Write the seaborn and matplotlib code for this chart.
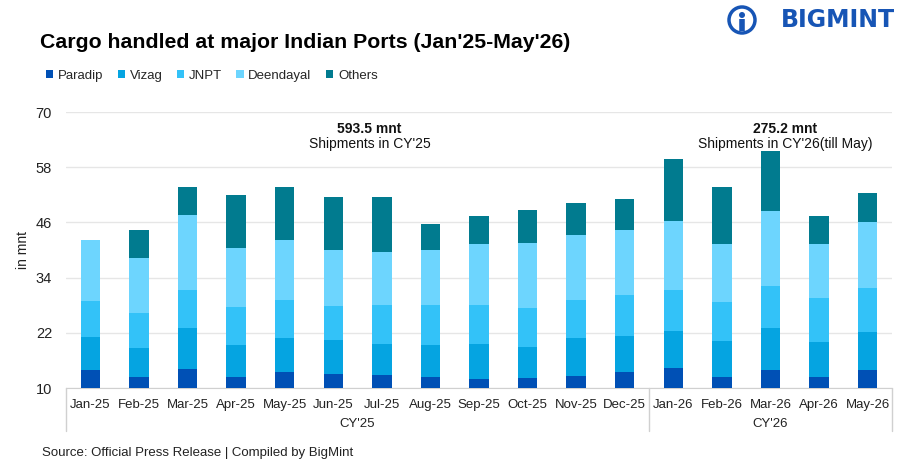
import numpy as np
import pandas as pd
import seaborn as sns
import matplotlib.pyplot as plt
from matplotlib.patches import Patch, Ellipse
from matplotlib.lines import Line2D

months = ["Jan-25", "Feb-25", "Mar-25", "Apr-25", "May-25", "Jun-25", "Jul-25", "Aug-25",
          "Sep-25", "Oct-25", "Nov-25", "Dec-25", "Jan-26", "Feb-26", "Mar-26", "Apr-26", "May-26"]
ports = ["Paradip", "Vizag", "JNPT", "Deendayal", "Others"]

paradip = [14.0, 12.5, 14.1, 12.5, 13.4, 13.0, 12.8, 12.3, 12.0, 12.2, 12.7, 13.4, 14.4, 12.5, 14.0, 12.5, 14.0]
vizag = [7.1, 6.2, 8.9, 6.8, 7.5, 7.4, 6.8, 7.1, 7.6, 6.8, 8.2, 8.0, 8.1, 7.8, 9.1, 7.4, 8.2]
jnpt = [7.9, 7.5, 8.2, 8.3, 8.2, 7.5, 8.5, 8.6, 8.5, 8.5, 8.3, 8.9, 8.9, 8.3, 9.1, 9.7, 9.5]
deendayal = [13.1, 12.1, 16.3, 12.9, 13.0, 12.0, 11.4, 11.9, 13.1, 14.1, 14.0, 14.0, 15.0, 12.8, 16.3, 11.8, 14.3]
others = [0.0, 6.0, 6.3, 11.4, 11.7, 11.7, 12.1, 5.8, 6.2, 7.2, 7.0, 6.8, 13.4, 12.2, 13.1, 5.9, 6.4]

colors = ["#0050B5", "#05A4E1", "#33C2F8", "#6DD5FE", "#017B8F"]

df = pd.DataFrame({"month": months, "Paradip": paradip, "Vizag": vizag, "JNPT": jnpt,
                   "Deendayal": deendayal, "Others": others})
cum = df[ports].cumsum(axis=1)
cum["month"] = months

sns.set_style("white")
plt.rcParams["font.family"] = ["Liberation Sans", "DejaVu Sans"]

W, H = 905, 473
fig = plt.figure(figsize=(W / 100, H / 100), dpi=100)
ax = fig.add_axes([66 / W, 85 / H, 826 / W, 276 / H])

# draw tallest layer first so lower layers cover it
for port, col in reversed(list(zip(ports, colors))):
    sns.barplot(data=cum, x="month", y=port, color=col, width=0.4, ax=ax,
                saturation=1, edgecolor="none", zorder=3)

ax.set_ylim(10, 70)
ax.set_yticks([10, 22, 34, 46, 58, 70])
ax.set_xlim(-0.5, len(months) - 0.5)
ax.grid(axis="y", color="#e6e6e6", linewidth=1, zorder=0)
for s in ["top", "right", "left"]:
    ax.spines[s].set_visible(False)
ax.spines["bottom"].set_color("#d0d0d0")
ax.tick_params(axis="both", length=0, labelsize=9.5, colors="#222222")
ax.tick_params(axis="y", labelsize=10.5, pad=10)
ax.tick_params(axis="x", pad=8)
ax.set_xlabel("")
ax.set_ylabel("in mnt", fontsize=10, color="#222222", labelpad=4)

# calendar-year group lines and labels under the month ticks
for xpos in [-0.5, 11.5, len(months) - 0.5]:
    ax.add_line(Line2D([xpos, xpos], [0, -0.155], transform=ax.get_xaxis_transform(),
                       color="#d0d0d0", linewidth=1, clip_on=False))
ax.text(5.5, -0.13, "CY'25", transform=ax.get_xaxis_transform(), ha="center", va="center",
        fontsize=9.5, color="#222222")
ax.text(14, -0.13, "CY'26", transform=ax.get_xaxis_transform(), ha="center", va="center",
        fontsize=9.5, color="#222222")

ax.text(5.75, 66.2, "593.5 mnt", ha="center", va="center", fontsize=10, fontweight="bold",
        color="#111111")
ax.text(5.75, 63.0, "Shipments in CY'25", ha="center", va="center", fontsize=10, color="#111111")
ax.text(14.3, 66.2, "275.2 mnt", ha="center", va="center", fontsize=10, fontweight="bold",
        color="#111111")
ax.text(14.3, 63.0, "Shipments in CY'26(till May)", ha="center", va="center", fontsize=10,
        color="#111111")

fig.text(40 / W, 1 - 42 / H, "Cargo handled at major Indian Ports (Jan'25-May'26)",
         fontsize=15.3, fontweight="bold", va="center", ha="left", color="#000000")

handles = [Patch(facecolor=c, edgecolor="none") for c in colors]
fig.legend(handles, ports, loc="center left", bbox_to_anchor=(34 / W, 1 - 76 / H),
           ncol=5, frameon=False, fontsize=9.5, handlelength=0.55, handleheight=0.55,
           handletextpad=0.35, columnspacing=1.1)

fig.text(42 / W, 1 - 453 / H, "Source: Official Press Release | Compiled by BigMint",
         fontsize=9.5, va="center", ha="left", color="#222222")

# logo: ring with a simple figure, then the wordmark
blue = "#1755B5"
cx, cy = 742 / W, 1 - 20 / H
fig.patches.append(Ellipse((cx, cy), 26 / W, 26 / H, transform=fig.transFigure,
                           facecolor="none", edgecolor=blue, linewidth=2.5))
fig.patches.append(Ellipse((cx, cy + 5 / H), 6 / W, 6 / H, transform=fig.transFigure,
                           facecolor=blue, edgecolor="none"))
fig.add_artist(Line2D([cx, cx], [cy + 1 / H, cy - 11 / H], transform=fig.transFigure,
                      color=blue, linewidth=4, solid_capstyle="butt"))
fig.text(895 / W, 1 - 20 / H, "BIGMINT", fontsize=17, fontweight="bold", ha="right",
         va="center", color=blue, family=["DejaVu Sans"])

fig.savefig("out.png", dpi=100)
